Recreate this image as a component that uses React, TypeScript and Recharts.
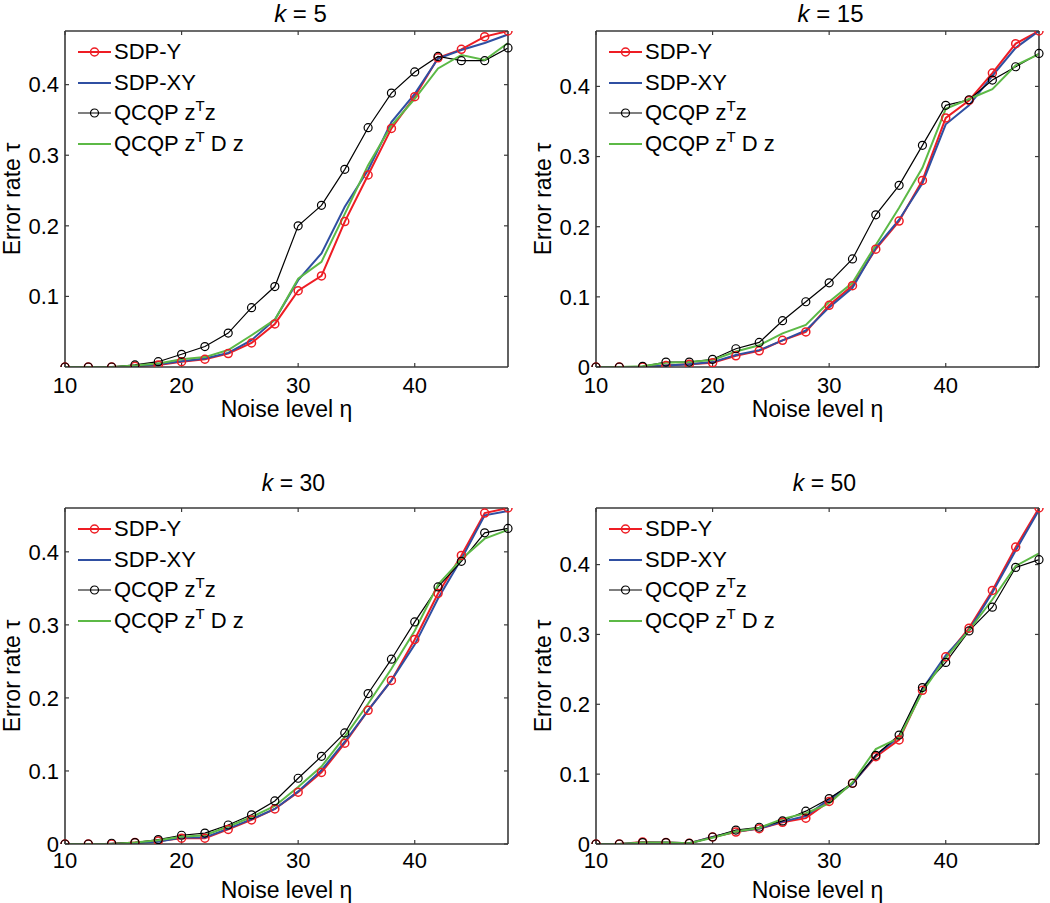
import { Label, Legend, Line, LineChart, XAxis, YAxis } from "recharts";
import type { ReactNode } from "react";

const noise = [10, 12, 14, 16, 18, 20, 22, 24, 26, 28, 30, 32, 34, 36, 38, 40, 42, 44, 46, 48];
const xTicks = [10, 20, 30, 40];

// k = 5
const sdpY5 = [0, 0, 0, 0.001, 0.003, 0.0075, 0.011, 0.019, 0.034, 0.061, 0.108, 0.129, 0.206, 0.272, 0.338, 0.383, 0.438, 0.45, 0.468, 0.476];
const sdpXY5 = [0, 0, 0, 0.001, 0.004, 0.008, 0.012, 0.02, 0.038, 0.067, 0.123, 0.161, 0.227, 0.279, 0.347, 0.387, 0.437, 0.449, 0.459, 0.471];
const qz5 = [0, 0, 0, 0.003, 0.0075, 0.018, 0.029, 0.048, 0.084, 0.114, 0.2, 0.229, 0.28, 0.339, 0.388, 0.418, 0.44, 0.434, 0.434, 0.452];
const qdz5 = [0, 0, 0, 0.002, 0.005, 0.011, 0.014, 0.024, 0.045, 0.067, 0.125, 0.149, 0.217, 0.286, 0.342, 0.38, 0.423, 0.442, 0.435, 0.459];

// k = 15
const sdpY15 = [0, 0, 0, 0.002, 0.004, 0.006, 0.016, 0.023, 0.038, 0.05, 0.088, 0.116, 0.168, 0.208, 0.266, 0.355, 0.38, 0.419, 0.461, 0.479];
const sdpXY15 = [0, 0, 0, 0.002, 0.004, 0.007, 0.017, 0.024, 0.038, 0.052, 0.085, 0.113, 0.17, 0.21, 0.262, 0.346, 0.373, 0.415, 0.455, 0.479];
const qz15 = [0, 0, 0.001, 0.007, 0.007, 0.011, 0.026, 0.035, 0.066, 0.093, 0.12, 0.154, 0.217, 0.259, 0.316, 0.373, 0.381, 0.409, 0.428, 0.447];
const qdz15 = [0, 0, 0.001, 0.006, 0.007, 0.01, 0.022, 0.031, 0.048, 0.06, 0.093, 0.12, 0.174, 0.227, 0.284, 0.368, 0.382, 0.396, 0.43, 0.446];

// k = 30
const sdpY30 = [0, 0, 0, 0.002, 0.004, 0.008, 0.008, 0.02, 0.033, 0.048, 0.071, 0.098, 0.138, 0.183, 0.224, 0.28, 0.343, 0.395, 0.453, 0.46];
const sdpXY30 = [0, 0, 0, 0.001, 0.003, 0.009, 0.009, 0.021, 0.034, 0.048, 0.072, 0.101, 0.14, 0.183, 0.224, 0.273, 0.336, 0.39, 0.45, 0.456];
const qz30 = [0, 0, 0.001, 0.002, 0.006, 0.012, 0.015, 0.026, 0.04, 0.059, 0.09, 0.12, 0.152, 0.206, 0.253, 0.304, 0.352, 0.387, 0.426, 0.432];
const qdz30 = [0, 0, 0, 0.002, 0.005, 0.01, 0.012, 0.024, 0.037, 0.052, 0.078, 0.106, 0.147, 0.192, 0.24, 0.292, 0.355, 0.39, 0.418, 0.43];

// k = 50
const sdpY50 = [0, 0, 0.003, 0.002, 0.001, 0.01, 0.017, 0.022, 0.031, 0.037, 0.061, 0.087, 0.125, 0.149, 0.22, 0.268, 0.309, 0.363, 0.425, 0.481];
const sdpXY50 = [0, 0, 0.002, 0.002, 0.001, 0.01, 0.018, 0.022, 0.032, 0.04, 0.064, 0.086, 0.127, 0.153, 0.222, 0.27, 0.306, 0.36, 0.42, 0.478];
const qz50 = [0, 0, 0.002, 0.002, 0.001, 0.01, 0.02, 0.024, 0.033, 0.047, 0.065, 0.087, 0.127, 0.156, 0.224, 0.26, 0.305, 0.339, 0.396, 0.407];
const qdz50 = [0, 0, 0.002, 0.002, 0.001, 0.009, 0.018, 0.023, 0.036, 0.044, 0.058, 0.088, 0.136, 0.152, 0.218, 0.266, 0.306, 0.35, 0.398, 0.416];

const FONT = "Arial, 'Liberation Sans', Helvetica, sans-serif";
const AXIS = "#3a3a3a";
const RED = "#ee1d24";
const BLUE = "#2f4fa2";
const BLACK = "#000000";
const GREEN = "#5cb946";

const sup = (t: string) => (
  <sup style={{ fontSize: 15, verticalAlign: "baseline", position: "relative", top: -9 }}>{t}</sup>
);

const series: { key: string; label: ReactNode; color: string; width: number; marker: boolean }[] = [
  { key: "sdpY", label: "SDP-Y", color: RED, width: 2, marker: true },
  { key: "sdpXY", label: "SDP-XY", color: BLUE, width: 2, marker: false },
  { key: "qz", label: <>QCQP z{sup("T")}z</>, color: BLACK, width: 1.2, marker: true },
  { key: "qdz", label: <>QCQP z{sup("T")} D z</>, color: GREEN, width: 2, marker: false },
];

function build(a: number[], b: number[], c: number[], d: number[]) {
  return noise.map((x, i) => ({ x, sdpY: a[i], sdpXY: b[i], qz: c[i], qdz: d[i] }));
}

function LegendBox() {
  return (
    <div style={{ fontFamily: FONT, fontSize: 22, color: "#000" }}>
      {series.map((s) => (
        <div key={s.key} style={{ display: "flex", alignItems: "center", height: 30.5 }}>
          <svg width={33} height={12} style={{ marginRight: 3 }}>
            <line x1={0} x2={33} y1={6} y2={6} stroke={s.color} strokeWidth={s.width} />
            {s.marker && (
              <circle cx={16.5} cy={6} r={4} fill="none" stroke={s.color} strokeWidth={s.width === 2 ? 1.5 : 1.2} />
            )}
          </svg>
          <span style={{ lineHeight: 1, whiteSpace: "nowrap" }}>{s.label}</span>
        </div>
      ))}
    </div>
  );
}

interface PanelProps {
  k: string;
  data: ReturnType<typeof build>;
  yTicks: number[];
  left: number;
  top: number;
  width: number;
  height: number;
  plot: { l: number; r: number; t: number; b: number };
  titleSize: number;
  titleDy: number;
  titleDx: number;
  xTickGap: number;
  xLabelDy: number;
}

function Panel(p: PanelProps) {
  // axes are 1px thick, so take that off the margins
  const margin = {
    left: p.plot.l - p.left - 1,
    top: p.plot.t - p.top - 1,
    right: p.left + p.width - p.plot.r - 1,
    bottom: p.top + p.height - p.plot.b - 1,
  };
  const yMax = Math.max(...p.data.flatMap((d) => [d.sdpY, d.sdpXY, d.qz, d.qdz]));
  const tickStyle = { fontSize: 22, fill: "#000", fontFamily: FONT };
  const noTick = () => <g />;

  return (
    <div style={{ position: "absolute", left: p.left, top: p.top }}>
      <LineChart width={p.width} height={p.height} data={p.data} margin={margin}>
        <XAxis
          dataKey="x"
          type="number"
          domain={[10, 48]}
          ticks={xTicks}
          interval={0}
          height={1}
          tickSize={-4}
          tickMargin={4 + p.xTickGap}
          tick={tickStyle}
          axisLine={{ stroke: AXIS, strokeWidth: 1.6 }}
          tickLine={{ stroke: AXIS, strokeWidth: 1.2 }}
        >
          <Label
            content={({ viewBox }: any) => (
              <text
                x={viewBox.x + viewBox.width / 2}
                y={viewBox.y + p.xLabelDy}
                textAnchor="middle"
                fontSize={23}
                fontFamily={FONT}
                fill="#000"
              >
                Noise level η
              </text>
            )}
          />
        </XAxis>
        <XAxis
          xAxisId="top"
          orientation="top"
          dataKey="x"
          type="number"
          domain={[10, 48]}
          ticks={xTicks}
          interval={0}
          height={1}
          tickSize={-4}
          tick={noTick}
          axisLine={{ stroke: AXIS, strokeWidth: 1.6 }}
          tickLine={{ stroke: AXIS, strokeWidth: 1.2 }}
        >
          <Label
            content={({ viewBox }: any) => (
              <text
                x={viewBox.x + viewBox.width / 2 + p.titleDx}
                y={viewBox.y + 1 - p.titleDy}
                textAnchor="middle"
                fontSize={p.titleSize}
                fontFamily={FONT}
                fill="#000"
              >
                <tspan fontStyle="italic">k</tspan>
                {" = " + p.k}
              </text>
            )}
          />
        </XAxis>
        <YAxis
          type="number"
          domain={[0, yMax]}
          allowDataOverflow
          ticks={p.yTicks}
          interval={0}
          width={1}
          tickSize={-4}
          tickMargin={10}
          tick={tickStyle}
          axisLine={{ stroke: AXIS, strokeWidth: 1.6 }}
          tickLine={{ stroke: AXIS, strokeWidth: 1.2 }}
        >
          <Label
            content={({ viewBox }: any) => {
              const cx = viewBox.x + 1 - 45;
              const cy = viewBox.y + viewBox.height / 2;
              return (
                <text
                  x={cx}
                  y={cy}
                  transform={`rotate(-90 ${cx} ${cy})`}
                  textAnchor="middle"
                  fontSize={23}
                  fontFamily={FONT}
                  fill="#000"
                >
                  Error rate τ
                </text>
              );
            }}
          />
        </YAxis>
        <YAxis
          yAxisId="right"
          orientation="right"
          type="number"
          domain={[0, yMax]}
          allowDataOverflow
          ticks={p.yTicks}
          interval={0}
          width={1}
          tickSize={-4}
          tick={noTick}
          axisLine={{ stroke: AXIS, strokeWidth: 1.6 }}
          tickLine={{ stroke: AXIS, strokeWidth: 1.2 }}
        />
        <Legend
          layout="vertical"
          align="center"
          verticalAlign="middle"
          content={() => <LegendBox />}
          wrapperStyle={{ left: p.plot.l - p.left + 13, top: p.plot.t - p.top + 6, width: "auto" }}
        />
        {series.map((s) => (
          <Line
            key={s.key}
            type="linear"
            dataKey={s.key}
            name={s.key}
            stroke={s.color}
            strokeWidth={s.width}
            dot={
              s.marker
                ? { r: 4, stroke: s.color, strokeWidth: s.width === 2 ? 1.5 : 1.2, fill: "none" }
                : false
            }
            activeDot={false}
            isAnimationActive={false}
          />
        ))}
      </LineChart>
    </div>
  );
}

export default function App() {
  const topRow = { top: 0, height: 440, titleSize: 24, titleDy: 9, xTickGap: 10, xLabelDy: 50 };
  const bottomRow = { top: 440, height: 463, titleSize: 23, titleDy: 17, xTickGap: 8, xLabelDy: 54 };
  const leftCol = { left: 0, width: 525 };
  const rightCol = { left: 525, width: 525 };
  const allTicks = [0, 0.1, 0.2, 0.3, 0.4];

  return (
    <div style={{ position: "absolute", left: 0, top: 0, width: 1050, height: 903, background: "#fff" }}>
      <Panel
        k="5"
        data={build(sdpY5, sdpXY5, qz5, qdz5)}
        yTicks={[0.1, 0.2, 0.3, 0.4]}
        {...topRow}
        {...leftCol}
        plot={{ l: 65, r: 508, t: 31, b: 367 }}
        titleDx={14}
      />
      <Panel
        k="15"
        data={build(sdpY15, sdpXY15, qz15, qdz15)}
        yTicks={allTicks}
        {...topRow}
        {...rightCol}
        plot={{ l: 596, r: 1039, t: 31, b: 367 }}
        titleDx={13}
      />
      <Panel
        k="30"
        data={build(sdpY30, sdpXY30, qz30, qdz30)}
        yTicks={allTicks}
        {...bottomRow}
        {...leftCol}
        plot={{ l: 65, r: 508, t: 508, b: 844 }}
        titleDx={7}
      />
      <Panel
        k="50"
        data={build(sdpY50, sdpXY50, qz50, qdz50)}
        yTicks={allTicks}
        {...bottomRow}
        {...rightCol}
        plot={{ l: 596, r: 1039, t: 508, b: 844 }}
        titleDx={7}
      />
    </div>
  );
}
